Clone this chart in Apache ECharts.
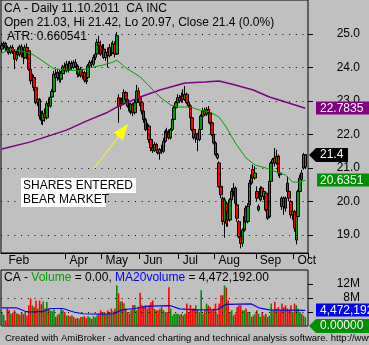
<!DOCTYPE html>
<html><head><meta charset="utf-8">
<script src="https://cdn.jsdelivr.net/npm/echarts@6/dist/echarts.min.js"></script>
<style>html,body{margin:0;padding:0;background:#c0c0c0;}#c{width:369px;height:345px;}</style>
</head><body><div id="c"></div>
<script>
// ---------- data ----------
const monthLabels = ['Feb','Apr','May','Jun','Jul','Aug','Sep','Oct'];
const monthLabelIdx = [2,36,56,77,99,119,142,163];
const monthTickIdx = [36,56,77,99,119,142,163];
const barCount = 171;
const categories = Array.from({length: barCount}, (_, i) => String(i));

const open = [24.55,24.65,24.72,24.58,24.50,24.45,24.60,24.48,24.25,24.45,
24.38,24.62,24.40,24.30,24.60,24.50,23.95,23.60,23.70,23.40,
22.95,23.05,22.55,22.42,22.62,22.50,22.92,22.85,23.12,23.28,
23.80,23.70,23.85,23.65,23.82,24.02,23.90,24.10,23.95,24.12,
24.00,24.15,24.05,23.80,23.95,23.75,23.85,23.62,23.70,24.05,
24.15,24.10,24.30,24.40,24.75,24.65,24.40,24.55,24.30,24.45,
24.35,24.60,24.45,24.70,24.40,23.10,22.85,23.00,22.92,23.25,
23.05,22.85,22.70,22.90,22.65,22.95,23.30,23.10,22.95,22.70,
22.45,22.15,22.25,21.85,21.60,21.52,21.70,21.55,21.45,21.55,
21.50,21.80,22.10,22.05,21.90,22.15,22.45,22.80,22.95,23.10,
23.00,23.15,23.05,23.20,22.95,22.85,22.50,22.15,21.90,22.02,
21.85,22.15,22.55,22.70,22.60,22.75,22.65,22.35,22.00,21.75,
21.30,21.15,20.45,20.10,19.40,19.95,19.70,19.45,20.05,20.30,
20.40,19.90,19.40,18.95,18.75,19.15,19.80,19.40,19.90,20.55,
20.95,20.70,20.30,19.75,20.05,20.40,20.15,20.25,19.75,19.55,
20.60,21.15,21.30,21.15,21.35,20.85,20.10,19.85,20.10,20.55,
20.30,20.00,19.60,19.70,18.85,19.55,20.30,20.85,21.00,21.03];
const close = [24.65,24.72,24.58,24.50,24.45,24.60,24.48,24.25,24.45,24.38,
24.62,24.40,24.30,24.60,24.48,23.95,23.60,23.72,23.40,22.95,
23.05,22.55,22.42,22.62,22.50,22.92,22.85,23.12,23.28,23.80,
23.70,23.85,23.65,23.82,24.02,23.90,24.10,23.95,24.12,24.00,
24.15,24.05,23.80,23.95,23.75,23.85,23.62,23.58,24.05,24.15,
24.10,24.30,24.40,24.75,24.65,24.40,24.55,24.30,24.45,24.35,
24.60,24.45,24.70,24.40,24.95,22.85,23.00,22.92,23.25,23.05,
22.85,22.70,22.90,22.65,22.95,23.30,23.10,22.95,22.70,22.45,
22.15,22.25,21.85,21.60,21.52,21.70,21.55,21.45,21.55,21.50,
21.80,22.10,22.05,21.90,22.15,22.45,22.80,22.95,23.10,23.00,
23.15,23.05,23.20,22.95,22.85,22.50,22.15,21.90,22.02,21.85,
22.15,22.55,22.70,22.60,22.75,22.65,22.35,22.00,21.75,21.40,
21.40,20.45,20.20,19.40,20.05,19.35,19.45,20.05,20.30,20.40,
19.95,19.50,18.95,18.75,19.15,19.55,19.40,19.85,20.55,20.80,
20.70,20.85,20.10,19.85,20.40,20.15,20.30,19.75,19.50,20.60,
21.15,21.25,21.15,21.35,20.85,20.80,19.85,20.10,19.80,20.30,
20.10,19.60,19.70,19.20,19.55,20.30,20.70,20.65,21.40,21.40];
const low = [24.45,24.55,24.50,24.42,24.38,24.40,24.40,23.95,24.18,24.30,
24.32,24.30,24.10,24.25,24.25,23.90,23.50,23.50,23.30,22.90,
22.85,22.45,22.30,22.28,22.38,22.45,22.75,22.80,23.02,23.22,
23.60,23.60,23.55,23.55,23.75,23.80,23.85,23.85,23.90,23.92,
23.95,23.98,23.70,23.72,23.70,23.65,23.55,23.50,23.65,23.98,
24.02,24.05,24.22,24.35,24.55,24.35,24.30,24.25,24.20,24.00,
24.30,24.35,24.40,24.30,24.38,22.35,22.75,22.85,22.88,22.95,
22.80,22.65,22.60,22.55,22.60,22.90,23.00,22.85,22.60,22.35,
22.10,22.05,21.75,21.50,21.45,21.48,21.50,21.40,21.25,21.42,
21.45,21.75,21.95,21.85,21.85,22.10,22.40,22.70,22.90,22.95,
22.95,22.95,23.00,22.90,22.80,22.45,22.10,21.85,21.75,21.50,
21.80,22.10,22.50,22.55,22.55,22.55,22.30,21.95,21.70,21.35,
21.25,20.40,20.10,19.30,18.92,19.25,19.25,19.40,19.95,20.15,
19.85,19.40,18.90,18.60,18.65,19.10,19.35,19.35,19.85,20.50,
20.60,20.65,20.00,19.70,20.00,20.10,20.05,19.70,19.45,19.50,
20.55,21.10,21.05,21.10,20.75,20.70,19.75,19.60,19.70,20.25,
20.00,19.50,19.45,19.10,18.72,19.50,20.25,20.55,20.95,20.97];
const high = [24.75,24.78,24.76,24.65,24.60,24.66,24.68,24.55,24.52,24.60,
24.68,24.70,24.50,24.68,24.72,24.60,24.05,23.82,23.78,23.45,
23.15,23.08,22.70,22.72,22.78,23.00,23.10,23.20,23.35,23.90,
23.95,23.95,23.95,23.90,24.08,24.15,24.20,24.18,24.20,24.20,
24.22,24.25,24.10,24.00,24.02,23.92,23.90,23.75,24.10,24.22,
24.22,24.38,24.45,24.85,24.95,24.80,24.70,24.70,24.55,24.60,
24.70,24.75,24.80,24.78,25.06,23.20,23.10,23.10,23.35,23.30,
23.10,22.95,22.95,22.95,23.05,23.48,23.40,23.15,23.00,22.75,
22.50,22.35,22.30,21.95,21.80,21.78,21.75,21.70,21.60,21.70,
21.90,22.15,22.20,22.15,22.20,22.50,22.85,23.00,23.20,23.18,
23.25,23.35,23.45,23.25,23.05,22.90,22.55,22.20,22.08,22.05,
22.20,22.60,22.80,22.80,22.82,22.85,22.75,22.40,22.10,21.80,
21.45,21.20,20.55,20.15,20.12,20.00,19.80,20.10,20.40,20.55,
20.45,20.00,19.45,19.05,19.20,19.62,19.88,19.95,20.65,20.90,
21.10,21.05,20.45,19.92,20.45,20.45,20.40,20.30,19.85,20.70,
21.20,21.30,21.60,21.55,21.40,20.95,20.15,20.15,20.15,20.75,
20.35,20.05,19.78,19.75,19.60,20.35,20.80,20.95,21.45,21.42];
// volume, millions of shares
const volumeM = [4.0,3.2,1.6,5.0,4.6,3.5,3.8,4.5,3.6,3.5,
3.2,3.8,3.4,4.0,3.0,5.9,7.9,5.9,5.4,7.3,
5.0,7.3,6.2,7.0,5.0,6.9,5.0,4.5,4.2,4.8,
2.6,3.2,3.5,5.0,4.5,4.0,3.0,3.0,2.8,3.0,
2.6,2.1,2.3,2.1,2.6,2.6,2.8,2.2,2.8,2.4,
2.0,2.8,2.5,3.0,3.5,4.5,3.8,4.0,3.5,4.5,
4.0,5.0,4.2,5.0,11.6,9.3,7.0,7.0,6.5,5.0,
4.0,3.5,4.5,6.0,6.0,4.5,5.5,9.5,6.0,5.5,
6.0,5.0,5.9,6.8,7.3,4.9,4.5,4.5,4.9,5.4,
4.5,4.0,4.0,11.1,5.0,3.0,3.5,3.5,3.5,3.2,
3.5,3.0,3.5,6.4,4.0,6.0,5.0,5.0,5.9,4.5,
4.0,10.2,3.5,4.5,6.4,5.9,5.4,4.5,5.0,6.4,
3.5,6.4,8.8,8.8,11.6,11.0,7.3,4.0,4.5,3.0,
3.5,5.4,5.9,5.9,4.5,4.5,5.0,4.0,4.0,2.6,
3.0,3.5,4.5,3.5,2.6,4.0,3.0,3.5,2.6,3.0,
6.4,4.5,6.9,4.9,5.4,4.5,6.4,5.4,5.9,5.0,
4.5,5.9,4.0,6.4,5.9,5.0,4.0,3.5,3.0,2.5];
// indicator lines: [bar index, value]
const maGreen = [[0,24.43],[5,24.55],[16,24.43],[22,24.22],[29,23.96],[36,23.93],[43,23.90],[49,23.99],[56,24.07],[62,24.16],[64,24.22],[69,23.99],[77,23.72],[82,23.45],[88,23.12],[94,22.88],[99,22.82],[105,22.82],[110,22.73],[116,22.67],[121,22.52],[125,22.22],[130,21.75],[136,21.30],[141,21.09],[147,21.00],[153,20.88],[158,20.79],[162,20.58],[166,20.58],[169,20.6351]];
const maPurple = [[0,21.57],[16,21.78],[36,22.13],[47,22.40],[58,22.64],[64,22.82],[77,23.12],[88,23.33],[102,23.54],[113,23.57],[121,23.60],[130,23.48],[140,23.33],[149,23.12],[158,22.97],[169,22.7835]];
const maVolume = [[0,5.2],[8,5.2],[13,4.2],[16,4.0],[23,4.2],[27,5.0],[34,5.0],[40,4.0],[45,3.5],[54,3.4],[62,3.5],[67,4.6],[74,5.0],[82,5.7],[94,5.8],[99,4.9],[108,4.6],[120,4.7],[125,6.2],[139,6.3],[143,5.2],[149,4.6],[169,4.472192]];
const priceTicks = [19,20,21,22,23,24,25];
const volTicks = [4,8,12];
const volLabelTicks = [8,12];
const lastClose = 21.4, lastGreen = 20.6351, lastPurple = 22.7835, lastVolMA = 4.472192, lastVol = 0;
const tagTexts = {purple:'22.7835', close:'21.4', green:'20.6351', volma:'4,472,192', vol:'0.00000'};
const titleLines = ['CA - Daily 11.10.2011  CA INC','Open 21.03, Hi 21.42, Lo 20.97, Close 21.4 (0.0%)','ATR: 0.660541'];
const volTitle = 'CA - {g|Volume} = 0.00, {b|MA20volume} = 4,472,192.00';
const footer = 'Created with AmiBroker - advanced charting and technical analysis software. http://www.amibroker.com';
const noteLines = ['SHARES ENTERED','BEAR MARKET'];

// ---------- chart ----------
const FONT = '"Liberation Sans", Arial, sans-serif';
const UP = '#00a000', DOWN = '#ff0000', VUP = '#008c00';
const chart = echarts.init(document.getElementById('c'));
const candles = open.map((o, i) => [o, close[i], low[i], high[i]]);
const labelFor = {};
monthLabelIdx.forEach((k, j) => { labelFor[String(k)] = monthLabels[j]; });

chart.setOption({
  animation: false,
  backgroundColor: '#c0c0c0',
  grid: [
    {left: 1, top: 0, width: 307, height: 253, show: true, borderColor: '#000', borderWidth: 1},
    {left: 1, top: 270, width: 307, height: 56, show: true, borderColor: '#000', borderWidth: 1}
  ],
  xAxis: [
    {type: 'category', gridIndex: 0, data: categories, boundaryGap: true,
     axisLine: {show: true, lineStyle: {color: '#000', width: 1}},
     axisTick: {show: true, interval: (i) => monthTickIdx.includes(i), length: 6, lineStyle: {color: '#000'}},
     axisLabel: {show: true, interval: (i) => monthLabelIdx.includes(i), formatter: (v) => labelFor[v] || '',
       align: 'left', padding: [0, 0, 0, 3], margin: 2, color: '#000', fontSize: 12, fontFamily: FONT},
     splitLine: {show: false}},
    {type: 'category', gridIndex: 1, data: categories, boundaryGap: true,
     axisLine: {show: false}, axisTick: {show: false}, axisLabel: {show: false}, splitLine: {show: false}}
  ],
  yAxis: [
    {type: 'value', gridIndex: 0, position: 'right', min: 18.463, max: 26.015, scale: true,
     axisLine: {show: false},
     axisTick: {show: true, customValues: priceTicks, length: 5, lineStyle: {color: '#000'}},
     axisLabel: {show: true, customValues: priceTicks, formatter: (v) => v.toFixed(1), align: 'right', margin: 52,
       color: '#000', fontSize: 12, fontFamily: FONT},
     splitLine: {show: false}},
    {type: 'value', gridIndex: 1, position: 'right', min: 0, max: 16,
     axisLine: {show: false},
     axisTick: {show: true, customValues: volTicks, length: 5, lineStyle: {color: '#000'}},
     axisLabel: {show: true, customValues: volLabelTicks, formatter: (v) => v + 'M', align: 'right', margin: 52,
       color: '#000', fontSize: 12, fontFamily: FONT},
     splitLine: {show: false}}
  ],
  series: [
    {type: 'line', xAxisIndex: 0, yAxisIndex: 0, data: [], silent: true, z: 1,
     markLine: {silent: true, symbol: ['none', 'none'], label: {show: false},
       lineStyle: {color: '#000', type: [1, 5.7], width: 1}, emphasis: {disabled: true},
       data: priceTicks.map(v => ({yAxis: v}))}},
    {type: 'line', xAxisIndex: 1, yAxisIndex: 1, data: [], silent: true, z: 1,
     markLine: {silent: true, symbol: ['none', 'none'], label: {show: false},
       lineStyle: {color: '#000', type: [1, 5.7], width: 1}, emphasis: {disabled: true},
       data: volTicks.slice(0, 2).map(v => ({yAxis: v}))}},
    {type: 'candlestick', xAxisIndex: 0, yAxisIndex: 0, data: candles, barWidth: 3, z: 2,
     itemStyle: {color: UP, color0: DOWN, borderColor: '#000', borderColor0: '#000', borderWidth: 1}},
    {type: 'line', xAxisIndex: 0, yAxisIndex: 0, data: maPurple, symbol: 'none', z: 3,
     lineStyle: {color: '#800080', width: 1.5}},
    {type: 'line', xAxisIndex: 0, yAxisIndex: 0, data: maGreen, symbol: 'none', z: 3,
     lineStyle: {color: '#00a000', width: 1}},
    {type: 'bar', xAxisIndex: 1, yAxisIndex: 1, data: volumeM, barCategoryGap: '12%', z: 2,
     itemStyle: {color: (p) => close[p.dataIndex] >= open[p.dataIndex] ? VUP : DOWN}},
    {type: 'line', xAxisIndex: 1, yAxisIndex: 1, data: maVolume, symbol: 'none', z: 3,
     lineStyle: {color: '#0000ff', width: 1.2}}
  ]
});

// ---------- tags and texts ----------
const py = (v) => chart.convertToPixel({yAxisIndex: 0}, v);
const vy = (v) => chart.convertToPixel({yAxisIndex: 1}, v);
const tf = '12px ' + FONT;
function txt(x, y, s, fill, font) {
  return {type: 'text', x: x, y: y, z: 100, silent: true,
    style: {text: s, fill: fill, font: font || tf, verticalAlign: 'middle', align: 'left'}};
}
function boxTag(y, color, s, x0) {
  return [{type: 'rect', z: 99, silent: true, shape: {x: x0, y: Math.round(y) - 6.5, width: 60, height: 13}, style: {fill: color}},
          txt(320, y, s, '#fff')];
}
function arrowTag(y, color, s, x1) {
  const yy = Math.round(y);
  return [{type: 'polygon', z: 99, silent: true,
    shape: {points: [[309, yy], [316, yy - 7], [x1, yy - 7], [x1, yy + 7], [316, yy + 7]]}, style: {fill: color}},
    txt(320, yy, s, '#fff')];
}
const g = [];
g.push(txt(4, 8.5, titleLines[0], '#000'));
g.push(txt(4, 22.5, titleLines[1], '#000'));
g.push(txt(7, 36.5, titleLines[2], '#000'));
g.push({type: 'text', x: 4, y: 277.5, z: 100, silent: true,
  style: {text: volTitle, fill: '#000', font: tf, verticalAlign: 'middle',
    rich: {g: {fill: '#00a000', font: tf}, b: {fill: '#0000ff', font: tf}}}});
g.push(txt(5, 338.7, footer, '#000', '9.5px ' + FONT));
// annotation
g.push({type: 'rect', z: 50, silent: true, shape: {x: 21, y: 178, width: 115, height: 15}, style: {fill: '#fff'}});
g.push({type: 'rect', z: 50, silent: true, shape: {x: 21, y: 193, width: 85, height: 14}, style: {fill: '#fff'}});
g.push(txt(23, 185.8, noteLines[0], '#000'));
g.push(txt(23, 199.8, noteLines[1], '#000'));
g.push({type: 'line', z: 50, silent: true, shape: {x1: 93.5, y1: 169, x2: 119, y2: 136}, style: {stroke: '#ffff00', lineWidth: 1}});
g.push({type: 'polygon', z: 50, silent: true, shape: {points: [[128, 124], [113.5, 132.9], [122.9, 140.3]]}, style: {fill: '#ffff00'}});
// value tags
g.push(...boxTag(py(lastPurple), '#800080', tagTexts.purple, 316));
g.push(...arrowTag(py(lastClose), '#000000', tagTexts.close, 348));
g.push(...boxTag(py(lastGreen), '#009000', tagTexts.green, 317));
g.push(...boxTag(vy(lastVolMA), '#0000ff', tagTexts.volma, 316));
g.push(...arrowTag(vy(lastVol) - 0.5, '#009000', tagTexts.vol, 372));
chart.setOption({graphic: g});
</script></body></html>
